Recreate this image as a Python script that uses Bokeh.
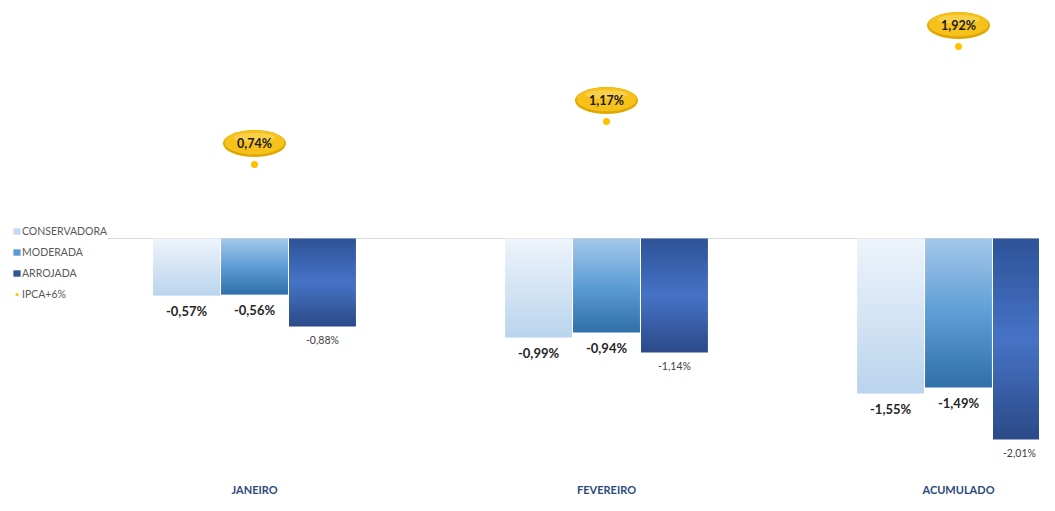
from bokeh.plotting import figure
from bokeh.models import Legend, LegendItem, Range1d
from bokeh.core.properties import value
from bokeh.embed import file_html
from bokeh.resources import INLINE

# ---------------- data ----------------
categories = ["JANEIRO", "FEVEREIRO", "ACUMULADO"]
series_names = ["CONSERVADORA", "MODERADA", "ARROJADA"]
conservadora = [-0.57, -0.99, -1.55]
moderada = [-0.56, -0.94, -1.49]
arrojada = [-0.88, -1.14, -2.01]
ipca_name = "IPCA+6%"
ipca6 = [0.74, 1.17, 1.92]

# ---------------- style ----------------
FONT = "Lato"
gradients = [
    [(0.0, "#eef4fb"), (1.0, "#bad4ed")],                       # conservadora
    [(0.0, "#a3c8e9"), (0.5, "#5e9dd6"), (1.0, "#2f6faa")],     # moderada
    [(0.0, "#2d5398"), (0.5, "#4673c6"), (1.0, "#2b4a88")],     # arrojada
]
legend_colors = ["#c5daf0", "#5b9bd5", "#2f5597"]
gold = "#ffc000"


def hex2rgb(h):
    h = h.lstrip("#")
    return tuple(int(h[i:i + 2], 16) for i in (0, 2, 4))


def interp(stops, t):
    for (p0, c0), (p1, c1) in zip(stops[:-1], stops[1:]):
        if t <= p1 or (p1 == stops[-1][0]):
            f = 0 if p1 == p0 else min(max((t - p0) / (p1 - p0), 0), 1)
            a, b = hex2rgb(c0), hex2rgb(c1)
            return "#%02x%02x%02x" % tuple(round(a[k] + (b[k] - a[k]) * f) for k in range(3))
    return stops[-1][1]


def fmt(v):
    return f"{v:.2f}".replace(".", ",") + "%"


p = figure(
    width=1039, height=495,
    x_range=Range1d(-0.2216, 2.7301), y_range=Range1d(-2.57, 2.38),
    output_backend="svg", toolbar_location=None,
    min_border=0, outline_line_color=None,
)
p.axis.visible = False
p.grid.visible = False
p.background_fill_color = "white"
p.border_fill_color = "white"

xc = [i + 0.5 for i in range(len(categories))]

# zero line
p.segment(x0=[0.082], y0=[0], x1=[2.76], y1=[0], line_color="#d9d9d9", line_width=1)

offsets = [-0.193, 0.0, 0.193]
bw = 0.19
N = 40
all_series = [conservadora, moderada, arrojada]
for s, vals in enumerate(all_series):
    L, R, T, B, C = [], [], [], [], []
    for i, v in enumerate(vals):
        x = xc[i] + offsets[s]
        for k in range(N):
            L.append(x - bw / 2)
            R.append(x + bw / 2)
            T.append(v * k / N)
            B.append(v * (k + 1) / N - (0 if k == N - 1 else 0.012))
            C.append(interp(gradients[s], (k + 0.5) / N))
    p.quad(left=L, right=R, top=T, bottom=B, fill_color=C, line_color=None)

# value labels
for s, vals in enumerate(all_series):
    xs = [xc[i] + offsets[s] for i in range(len(vals))]
    if s < 2:
        p.text(x=xs, y=vals, text=[fmt(v) for v in vals], text_align="center",
               text_baseline="middle", y_offset=15, text_font=value(FONT),
               text_font_size="13px", text_font_style="bold", text_color="#262626")
    else:
        # last label nudged left so it stays inside the visible canvas
        p.text(x=xs, y=vals, text=[fmt(v) for v in vals], text_align="center",
               text_baseline="middle", y_offset=13, x_offset=[0, 0, -7], text_font=value(FONT),
               text_font_size="10.5px", text_color="#404040")

# IPCA points and bubbles
p.scatter(x=xc, y=ipca6, marker="circle", size=7, fill_color=gold, line_color=None)
by = [v + 0.21 for v in ipca6]
p.ellipse(x=xc, y=by, width=63, height=27, width_units="screen", height_units="screen",
          fill_color="#dfa800", line_color=None)
p.ellipse(x=xc, y=[v + 0.012 for v in by], width=60, height=24, width_units="screen",
          height_units="screen", fill_color="#f6c11a", line_color=None)
p.ellipse(x=xc, y=[v + 0.06 for v in by], width=42, height=9, width_units="screen",
          height_units="screen", fill_color="#fad65e", line_color=None, fill_alpha=0.7)
p.text(x=xc, y=by, text=[fmt(v) for v in ipca6], text_align="center", text_baseline="middle",
       text_font=value(FONT), text_font_size="12.5px", text_font_style="bold", text_color="#1a1a1a")

# category labels
p.text(x=xc, y=[-2.57] * 3, text=categories, text_align="center", text_baseline="bottom",
       text_font=value(FONT), text_font_size="11px", text_font_style="bold", text_color="#2b4a7c")

# legend (proxy renderers with a single non-drawn NaN row)
nan = float("nan")
items = []
for name, c in zip(series_names, legend_colors):
    r = p.quad(left=[nan], right=[nan], top=[nan], bottom=[nan], fill_color=c, line_color=None)
    items.append(LegendItem(label=name, renderers=[r]))
rg = p.scatter(x=[nan], y=[nan], marker="circle", size=6, fill_color=gold, line_color=None)
items.append(LegendItem(label=ipca_name, renderers=[rg]))
legend = Legend(items=items, location=(12, 194), padding=0, margin=0, spacing=7,
                label_height=14, glyph_width=9, glyph_height=8, label_standoff=1,
                label_text_font=FONT, label_text_font_size="10.5px", label_text_color="#595959",
                background_fill_alpha=0, border_line_color=None)
p.add_layout(legend)

open("out.html", "w").write(file_html(p, INLINE))
